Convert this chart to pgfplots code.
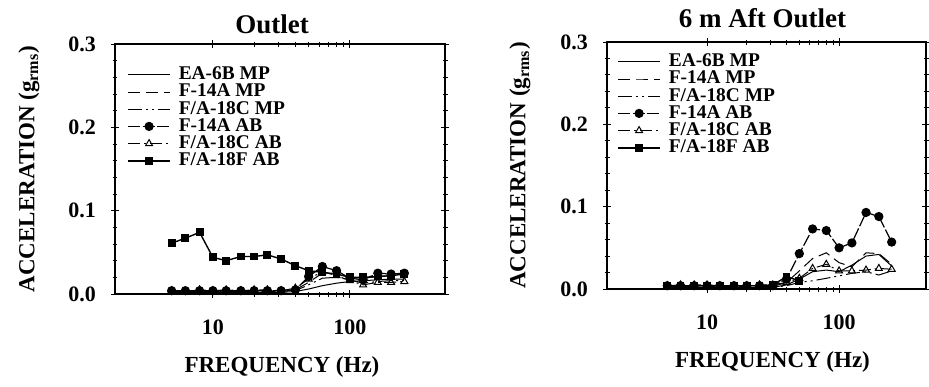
\documentclass[border=0pt]{standalone}
\usepackage{pgfplots}
\pgfplotsset{compat=1.18}
\usepackage{pgfplotstable}
\usepackage{fontspec}
\setmainfont{Liberation Serif}

\pgfplotstableread{
f      ea    f14mp  f18mp  f14ab  f18cab f18fab
5      0.002 0.003  0.003  0.004  0.004  0.061
6.3    0.002 0.003  0.003  0.004  0.003  0.067
8      0.002 0.003  0.003  0.004  0.005  0.074
10     0.002 0.003  0.003  0.004  0.004  0.044
12.5   0.002 0.003  0.003  0.004  0.005  0.040
16     0.002 0.003  0.003  0.004  0.004  0.045
20     0.002 0.003  0.003  0.004  0.005  0.045
25     0.002 0.003  0.003  0.004  0.005  0.047
31.5   0.002 0.003  0.003  0.004  0.004  0.042
40     0.003 0.005  0.004  0.005  0.007  0.034
50     0.006 0.014  0.011  0.021  0.018  0.028
63     0.010 0.025  0.019  0.033  0.027  0.026
80     0.013 0.024  0.020  0.028  0.022  0.024
100    0.015 0.020  0.017  0.019  0.016  0.020
125    0.016 0.019  0.013  0.017  0.011  0.020
160    0.017 0.021  0.015  0.025  0.014  0.021
200    0.018 0.022  0.016  0.024  0.014  0.022
250    0.018 0.022  0.016  0.025  0.015  0.024
}\outlet

\pgfplotstableread{
f      ea    f14mp  f18mp  f14ab  f18cab
5      0.002 0.003  0.002  0.004  0.004
6.3    0.002 0.003  0.002  0.004  0.005
8      0.002 0.003  0.002  0.004  0.005
10     0.002 0.003  0.002  0.004  0.005
12.5   0.002 0.003  0.002  0.004  0.004
16     0.002 0.003  0.002  0.004  0.004
20     0.002 0.003  0.002  0.004  0.004
25     0.002 0.003  0.002  0.004  0.005
31.5   0.002 0.003  0.002  0.004  0.005
40     0.005 0.008  0.004  0.012  0.008
50     0.012 0.022  0.008  0.043  0.013
63     0.021 0.037  0.010  0.073  0.025
80     0.023 0.044  0.013  0.071  0.030
100    0.021 0.032  0.016  0.050  0.022
125    0.029 0.027  0.019  0.056  0.022
160    0.040 0.044  0.021  0.093  0.023
200    0.042 0.043  0.017  0.088  0.025
250    0.028 0.030  0.022  0.057  0.024
}\aft

\pgfplotstableread{
f      v
5      0.004
6.3    0.004
8      0.004
10     0.004
12.5   0.004
16     0.004
20     0.004
25     0.004
31.5   0.005
40     0.015
50     0.010
}\aftf

\pgfplotsset{
  myaxis/.style={
    scale only axis,
    ymin=0, ymax=0.3,
    ytick={0,0.1,0.2,0.3},
    minor y tick num=4,
    xtick={10,100},
    xticklabels={10,100},
    yticklabel style={/pgf/number format/fixed,/pgf/number format/precision=1,/pgf/number format/fixed zerofill, xshift=-4pt},
    xticklabel style={yshift=-7.5pt},
    tick label style={font=\fontsize{11}{12}\selectfont\bfseries},
    label style={font=\fontsize{11.5}{12}\selectfont\bfseries},
    title style={font=\fontsize{13.5}{14}\selectfont\bfseries},
    tick align=center,
    major tick length=4pt,
    minor tick length=2.5pt,
    every tick/.style={black, line width=0.5pt},
    axis line style={line width=0.7pt},
    xlabel={FREQUENCY (Hz)},
    ylabel={ACCELERATION (g\textsubscript{rms})},
    legend cell align=left,
    legend style={draw=none, fill=none, font=\fontsize{9.7}{10}\selectfont\bfseries,
      nodes={inner sep=0pt, text height=6.6pt, text depth=1.8pt},
      row sep=0.2pt, inner sep=0pt,
      /tikz/every odd column/.append style={column sep=4pt}},
    legend image code/.code={\draw[mark repeat=2,mark phase=2] plot coordinates {(0pt,0pt) (10.5pt,0pt) (21pt,0pt)};},
  },
  s1/.style={black, line width=0.5pt, solid, no markers},
  s2/.style={black, line width=0.5pt, dash pattern=on 6pt off 3pt, no markers},
  s3/.style={black, line width=0.5pt, dash pattern=on 7pt off 2pt on 1pt off 2pt on 1pt off 2pt, no markers},
  s4/.style={black, line width=0.6pt, dash pattern=on 6pt off 1.2pt, mark=*, mark size=2pt, mark options={solid, fill=black}},
  s5/.style={black, line width=0.5pt, dash pattern=on 6pt off 2pt on 1pt off 2pt, mark=triangle, mark size=2pt, mark options={solid, fill=white}},
  s6/.style={black, line width=0.7pt, solid, mark=square*, mark size=1.6pt, mark options={solid, fill=black}},
}

\begin{document}
\begin{tikzpicture}
\path[use as bounding box] (0,0) rectangle (464.5pt,-193pt);

\begin{axis}[xmode=log, myaxis,
  /pgf/number format/assume math mode=true,
  at={(57.5pt,-147pt)}, anchor=south west,
  width=165pt, height=125pt,
  xmin=1.93, xmax=495,
  title={Outlet},
  title style={at={(0.5,1)}, anchor=center, yshift=4pt, xshift=-4pt},
  xlabel style={at={(0.5,0)}, anchor=center, yshift=-36.5pt, xshift=1pt},
  ylabel style={at={(0,0.5)}, anchor=center, yshift=43pt},
  legend style={at={(0,1)}, anchor=north west, xshift=6pt, yshift=-11pt},
]
\addplot[s1] table[x=f,y=ea] {\outlet};
\addlegendentry{EA-6B MP}
\addplot[s2] table[x=f,y=f14mp] {\outlet};
\addlegendentry{F-14A MP}
\addplot[s3] table[x=f,y=f18mp] {\outlet};
\addlegendentry{F/A-18C MP}
\addplot[s4] table[x=f,y=f14ab] {\outlet};
\addlegendentry{F-14A AB}
\addplot[s5] table[x=f,y=f18cab] {\outlet};
\addlegendentry{F/A-18C AB}
\addplot[s6] table[x=f,y=f18fab] {\outlet};
\addlegendentry{F/A-18F AB}
\end{axis}

\begin{axis}[xmode=log, myaxis,
  /pgf/number format/assume math mode=true,
  at={(303.5pt,-144.5pt)}, anchor=south west,
  width=159.5pt, height=123.5pt,
  xmin=1.75, xmax=455,
  title={6 m Aft Outlet},
  title style={at={(0.5,1)}, anchor=center, yshift=6pt, xshift=-2pt},
  xlabel style={at={(0.5,0)}, anchor=center, yshift=-36.5pt, xshift=3pt},
  ylabel style={at={(0,0.5)}, anchor=center, yshift=43.5pt},
  legend style={at={(0,1)}, anchor=north west, xshift=5pt, yshift=-5.5pt},
]
\addplot[s1] table[x=f,y=ea] {\aft};
\addlegendentry{EA-6B MP}
\addplot[s2] table[x=f,y=f14mp] {\aft};
\addlegendentry{F-14A MP}
\addplot[s3] table[x=f,y=f18mp] {\aft};
\addlegendentry{F/A-18C MP}
\addplot[s4] table[x=f,y=f14ab] {\aft};
\addlegendentry{F-14A AB}
\addplot[s5] table[x=f,y=f18cab] {\aft};
\addlegendentry{F/A-18C AB}
\addplot[s6] table[x=f,y=v] {\aftf};
\addlegendentry{F/A-18F AB}
\end{axis}
\end{tikzpicture}
\end{document}
